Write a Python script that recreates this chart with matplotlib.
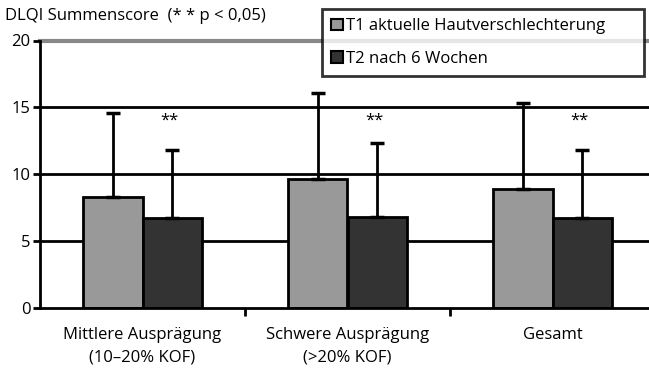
import numpy as np
import matplotlib
matplotlib.use("Agg")
import matplotlib.pyplot as plt
from matplotlib.patches import Patch

plt.rcParams['font.family'] = ['Open Sans', 'DejaVu Sans']

# ── Data ─────────────────────────────────────────────────────────────────────

categories = ["Mittlere Ausprägung\n(10–20% KOF)", "Schwere Ausprägung\n(>20% KOF)", "Gesamt"]
t1_mean = [8.3, 9.6, 8.9]
t1_sd = [6.3, 6.5, 6.4]
t2_mean = [6.7, 6.8, 6.7]
t2_sd = [5.1, 5.5, 5.1]
series_labels = ["T1 aktuelle Hautverschlechterung", "T2 nach 6 Wochen"]
yticks = [0, 5, 10, 15, 20]

# ── Figure ───────────────────────────────────────────────────────────────────

fig = plt.figure(figsize=(6.49, 3.73), dpi=100)
ax = fig.add_axes([40 / 649, 65.3 / 373, 609 / 649, 267.2 / 373])

x = np.arange(len(categories)) + 0.5
w = 0.29

# horizontal grid lines behind the bars
for v in yticks[1:-1]:
    ax.axhline(v, color="black", lw=2, zorder=0)
ax.axhline(20, color="#888888", lw=3, zorder=0, clip_on=False)

err_kw = dict(ecolor="black", elinewidth=2, capsize=5, capthick=2.5)
ax.bar(x - w / 2, t1_mean, w, color="#999999", edgecolor="black", lw=2,
       yerr=[np.zeros(3), t1_sd], error_kw=err_kw, zorder=2, label=series_labels[0])
ax.bar(x + w / 2, t2_mean, w, color="#333333", edgecolor="black", lw=2,
       yerr=[np.zeros(3), t2_sd], error_kw=err_kw, zorder=2, label=series_labels[1])

for xi in x:
    ax.text(xi + w / 2 - 0.015, 14.0, "**", ha="center", va="center", fontsize=12)

ax.set_xlim(0, 609 / 205)
ax.set_ylim(0, 20)
ax.set_yticks(yticks)
ax.set_xticks(x)
ax.set_xticklabels(categories, fontsize=12, linespacing=1.5)
ax.set_xticks([1, 2], minor=True)
ax.tick_params(axis="x", which="major", length=0, pad=14)
ax.tick_params(axis="x", which="minor", length=6, width=2, direction="out")
ax.tick_params(axis="y", length=5, width=2, direction="out", labelsize=12, pad=2)

for side in ["top", "right"]:
    ax.spines[side].set_visible(False)
ax.spines["left"].set_linewidth(2)
ax.spines["bottom"].set_linewidth(2)

fig.text(5 / 649, 1 - 16 / 373, "DLQI Summenscore  (* * p < 0,05)", fontsize=12,
         va="center", ha="left")

handles = [Patch(facecolor="#999999", edgecolor="black", lw=1.5),
           Patch(facecolor="#333333", edgecolor="black", lw=1.5)]
leg = fig.legend(handles, series_labels, loc="upper left", mode="expand",
                 bbox_to_anchor=(322 / 649, 1 - 77 / 373, 322 / 649, 68 / 373),
                 fontsize=12, frameon=True, fancybox=False,
                 handlelength=0.7, handleheight=0.7,
                 handletextpad=0.2, borderpad=0.55, labelspacing=1.0,
                 borderaxespad=0)
leg.get_frame().set_edgecolor("black")
leg.get_frame().set_linewidth(2)
leg.set_zorder(5)

fig.savefig("out.png", dpi=100)
